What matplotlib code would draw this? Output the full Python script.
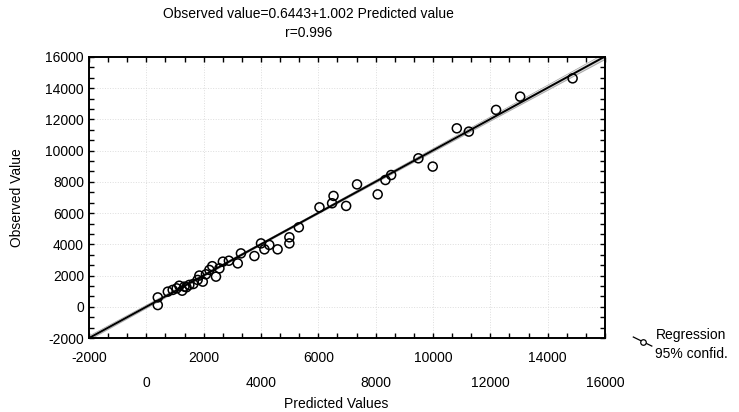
import numpy as np
import matplotlib.pyplot as plt
from matplotlib.ticker import MultipleLocator, AutoMinorLocator
from matplotlib.lines import Line2D

plt.rcParams['font.family'] = ['Liberation Sans', 'DejaVu Sans']

predicted = [400, 400, 750, 920, 1060, 1150, 1250, 1330, 1400, 1500, 1640, 1790,
             1850, 1970, 2080, 2200, 2300, 2430, 2550, 2670, 2880, 3190, 3300,
             3770, 4000, 4120, 4290, 4580, 4990, 4990, 5320, 6040, 6530, 6480,
             6970, 7350, 8070, 8340, 8540, 9490, 9990, 10830, 11250, 12200,
             13040, 14870]
observed = [600, 110, 970, 1080, 1180, 1350, 1030, 1290, 1250, 1400, 1460, 1720,
            2000, 1610, 2080, 2360, 2600, 1930, 2460, 2890, 2950, 2780, 3420,
            3250, 4060, 3680, 3960, 3680, 4450, 4060, 5090, 6370, 7100, 6630,
            6460, 7840, 7200, 8120, 8440, 9510, 8980, 11430, 11220, 12610,
            13460, 14630]

intercept = 0.6443
slope = 1.002
r_value = 0.996

x = np.array(predicted, float)
y = np.array(observed, float)

fig = plt.figure(figsize=(7.39, 4.12), dpi=100)
ax = fig.add_axes([0.1204, 0.1796, 0.6983, 0.6821])

# regression line and confidence band
xs = np.linspace(-2000, 16000, 200)
ys = intercept + slope * xs
n = len(x)
resid = y - (intercept + slope * x)
s = np.sqrt(np.sum(resid ** 2) / (n - 2))
sxx = np.sum((x - x.mean()) ** 2)
half = 1.0 * s * np.sqrt(1.0 / n + (xs - x.mean()) ** 2 / sxx)

ax.fill_between(xs, ys - half, ys + half, color='#c0c0c0', alpha=0.6, lw=0)
ax.plot(xs, ys - half, color='#a0a0a0', lw=0.5)
ax.plot(xs, ys + half, color='#a0a0a0', lw=0.5)
ax.plot(xs, ys, color='black', lw=1.4)

ax.scatter(x, y, s=42, facecolors='none', edgecolors='black', linewidths=1.1, zorder=3)

ax.set_xlim(-2000, 16000)
ax.set_ylim(-2000, 16000)
ax.xaxis.set_major_locator(MultipleLocator(2000))
ax.yaxis.set_major_locator(MultipleLocator(2000))
ax.xaxis.set_minor_locator(AutoMinorLocator(3))
ax.yaxis.set_minor_locator(AutoMinorLocator(3))
ax.tick_params(which='both', direction='in', top=True, right=True, length=3.5,
               width=1.0, labelsize=10)
ax.grid(True, which='major', linestyle=':', color='#dddddd', lw=0.7)
for sp in ax.spines.values():
    sp.set_linewidth(1.4)

ax.set_yticks(np.arange(-2000, 16001, 2000))
ax.set_xticks(np.arange(-2000, 16001, 2000))
ax.set_yticklabels([f'{int(v)}' for v in ax.get_yticks()])
ax.set_xticklabels([f'{int(v)}' for v in ax.get_xticks()])
# staggered x labels: -2000, 2000, 6000... on the upper row
for t in ax.xaxis.get_major_ticks():
    row = int(round((t.get_loc() + 2000) / 2000)) % 2
    t.set_pad(9 if row == 0 else 27)

fig.text(0.417, 0.966, f'Observed value={intercept}+{slope} Predicted value',
         ha='center', va='center', fontsize=10)
fig.text(0.417, 0.92, f'r={r_value}', ha='center', va='center', fontsize=10)
fig.text(0.455, 0.02, 'Predicted Values', ha='center', va='center', fontsize=10)
fig.text(0.023, 0.52, 'Observed Value', ha='center', va='center', rotation=90,
         fontsize=10)

# legend
fig.add_artist(Line2D([0.857, 0.882], [0.182, 0.160], transform=fig.transFigure,
                      color='black', lw=0.9))
fig.add_artist(Line2D([0.8695], [0.171], transform=fig.transFigure, marker='o',
                      markersize=4, markerfacecolor='white', markeredgecolor='black',
                      markeredgewidth=0.9))
fig.text(0.887, 0.187, 'Regression', ha='left', va='center', fontsize=10)
fig.text(0.887, 0.141, '95% confid.', ha='left', va='center', fontsize=10)

fig.savefig('out.png', dpi=100)
